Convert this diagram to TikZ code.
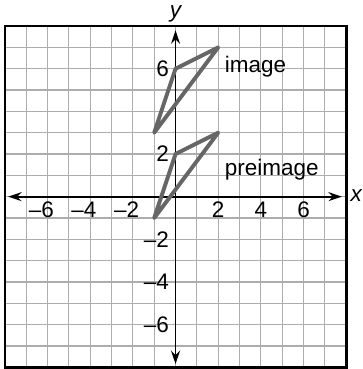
\documentclass[tikz,border=0pt]{standalone}
\usepackage{fontspec}
\setmainfont{Liberation Sans}
\usetikzlibrary{arrows.meta}

\tikzset{
  gridline/.style={draw=black!32, line width=0.8pt},
  frameline/.style={draw=black, line width=1.8pt},
  axisline/.style={draw=black, line width=1.2pt,
    {Stealth[length=9pt,width=6pt,inset=3pt]}-{Stealth[length=9pt,width=6pt,inset=3pt]}},
  triline/.style={draw=black!60, line width=2.6pt, line join=round, line cap=round},
  lbl/.style={font=\fontsize{15}{18}\selectfont, inner sep=0pt},
  axlbl/.style={font=\fontsize{15}{18}\selectfont\itshape, inner sep=0pt},
}

\begin{document}
\begin{tikzpicture}[x=0.5cm,y=0.5cm]
  \useasboundingbox (-8.23,-8.08) rectangle (8.78,9.22);
  % grid and frame
  \draw[gridline, step=1] (-8,-8) grid (8,8);
  \draw[frameline] (-8,-8) rectangle (8,8);
  % axes
  \coordinate (xl) at (-7.85,0);
  \coordinate (xr) at (7.8,0);
  \coordinate (yb) at (0,-7.85);
  \coordinate (yt) at (0,7.8);
  \draw[axisline] (xl) -- (xr);
  \draw[axisline] (yb) -- (yt);
  \node[axlbl] (xlab) at (8.47,0.05) {x};
  \node[axlbl] (ylab) at (0,8.56) {y};
  % tick labels
  \foreach \v/\t in {-6/6,-4/4,-2/2}{
    \node[lbl, anchor=base] (xt\t m) at (\v,-0.97) {\llap{–}\t};
    \node[lbl, anchor=east] (yt\t m) at (-0.3,\v) {–\t};
  }
  \foreach \v in {2,4,6}{
    \node[lbl, anchor=base] (xt\v) at (\v,-0.97) {\v};
  }
  \foreach \v in {2,6}{
    \node[lbl, anchor=east] (yt\v) at (-0.3,\v) {\v};
  }
  % preimage and image
  \foreach \dy in {0,4}{
    \draw[triline] (-1,{\dy-1}) -- (0,{\dy+2}) -- (2,{\dy+3}) -- cycle;
  }
  \node[lbl, anchor=base west] (img) at (2.3,5.81) {image};
  \node[lbl, anchor=base west] (pre) at (2.3,0.97) {preimage};
\end{tikzpicture}
\end{document}
